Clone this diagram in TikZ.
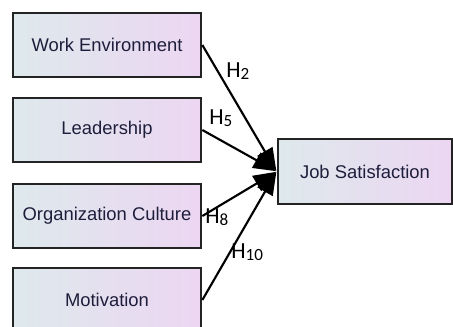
\documentclass[tikz,border=0pt]{standalone}
\usepackage{fontspec}
\setmainfont{Liberation Sans}
\newfontfamily\calib{Carlito}
\usetikzlibrary{arrows.meta}
\definecolor{boxleft}{RGB}{222,233,236}
\definecolor{boxright}{RGB}{236,214,242}
\definecolor{boxborder}{RGB}{35,35,35}
\definecolor{boxtext}{RGB}{30,30,60}
\newcommand\hyplab[1]{{\calib\fontsize{17.25}{18}\selectfont H\raisebox{-1.6pt}{\fontsize{12.8}{13}\selectfont #1}}}
\tikzset{
  var/.style={draw=boxborder, line width=2pt, left color=boxleft, right color=boxright,
    shading angle=90, minimum width=188*0.75pt, minimum height=64*0.75pt, inner sep=0pt,
    text=boxtext, font=\fontsize{13.8}{15}\selectfont},
  path/.style={line width=1.6pt, draw=black, -{Triangle[length=17pt,width=13pt]}, shorten >=0.5pt},
  hlab/.style={anchor=base west, inner sep=0pt, text=black}
}
\begin{document}
\begin{tikzpicture}[x=0.75pt,y=-0.75pt]
\useasboundingbox (0,0) rectangle (453,326);
\clip (0,0) rectangle (453,326);
\fill[white] (0,0) rectangle (453,326);
\node[var] (we) at (107,45) {Work Environment};
\node[var] (le) at (107,130) {Leadership};
\node[var] (oc) at (107,216) {Organization Culture};
\node[var] (mo) at (107,300) {Motivation};
\node[var, minimum width=174*0.75pt, minimum height=65*0.75pt] (js) at (365,171.5) {Job Satisfaction};
\draw[path] (we.east) -- (js.west);
\draw[path] (le.east) -- (js.west);
\draw[path] (oc.east) -- (js.west);
\draw[path] (mo.east) -- (js.west);
\node[hlab] (h2) at (226,77) {\hyplab{2}};
\node[hlab] (h5) at (209,124) {\hyplab{5}};
\node[hlab] (h8) at (205,223) {\hyplab{8}};
\node[hlab] (h10) at (231,258) {\hyplab{10}};
\end{tikzpicture}
\end{document}
